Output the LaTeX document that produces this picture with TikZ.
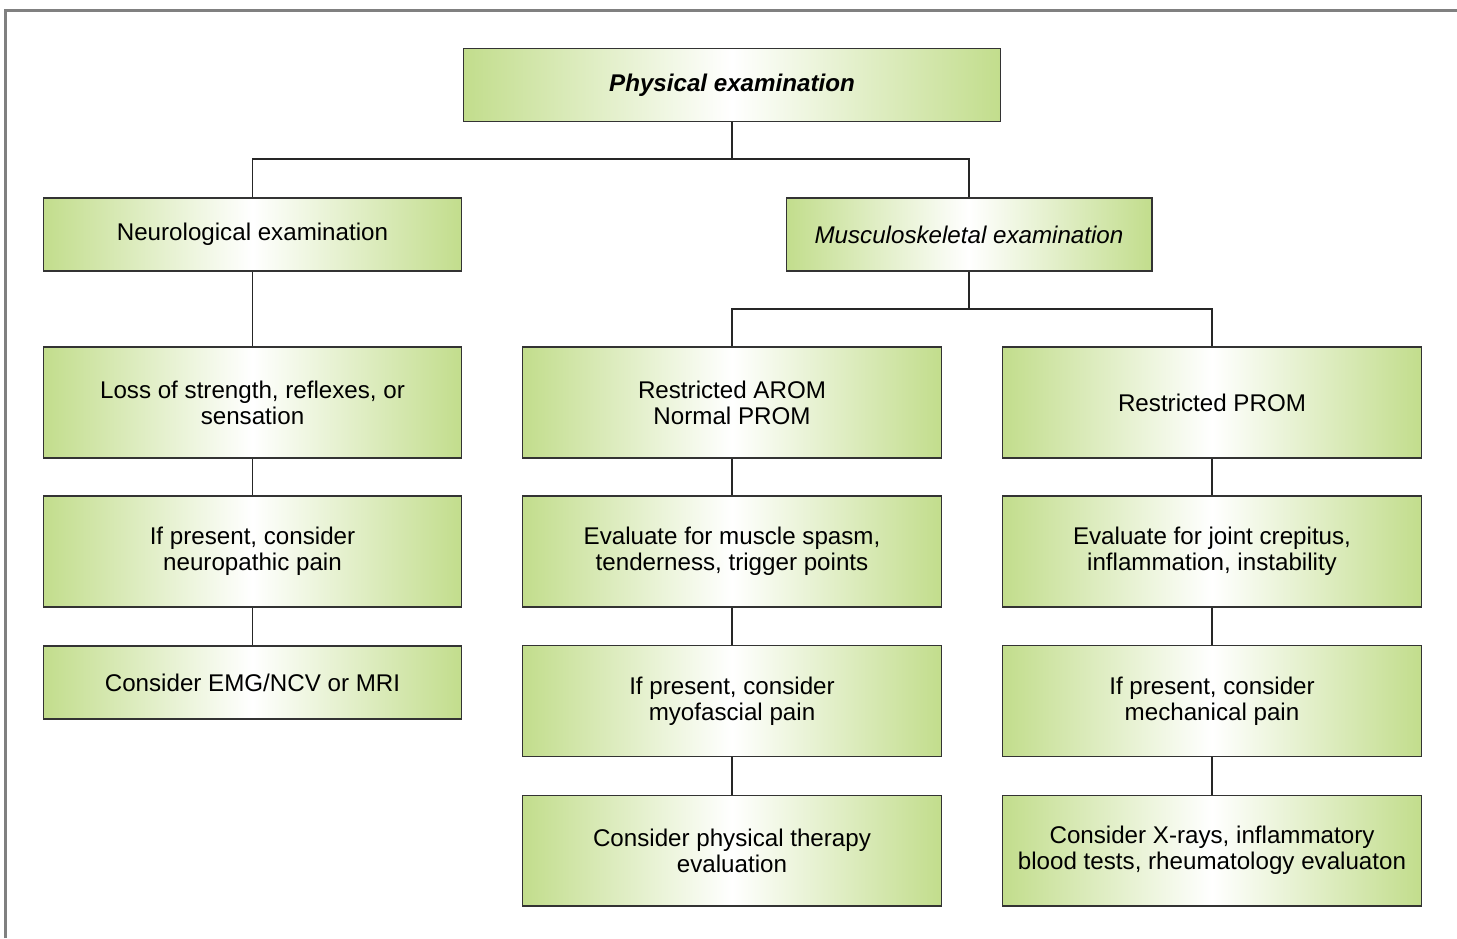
\documentclass[tikz,border=0pt]{standalone}
\usepackage{fontspec}
\setmainfont{Liberation Sans}
\usepackage{tikz}
\definecolor{boxgreen}{RGB}{194,221,140}

\begin{document}
\begin{tikzpicture}[x=0.02cm, y=-0.02cm,
  box/.style={draw=black!80, line width=0.6pt, left color=boxgreen, right color=boxgreen,
    middle color=white, align=center, inner sep=0pt, minimum width=8.38cm,
    font=\fontsize{13.75}{14.9}\selectfont},
  low/.style={minimum height=1.46cm},
  high/.style={minimum height=2.22cm},
  link/.style={draw=black!85, line width=0.6pt}]
  \useasboundingbox (0,0) rectangle (1457,938);
  % frame
  \draw[black!50, line width=1.2pt] (5.5,938) -- (5.5,10.5) -- (1457,10.5);
  % top level
  \node[box, low, minimum width=10.76cm, font=\fontsize{13.75}{14.9}\selectfont\bfseries\itshape]
    (phys) at (732,85) {Physical examination};
  \node[box, low] (neuro) at (252.5,234.5) {Neurological examination};
  \node[box, low, minimum width=7.32cm, font=\fontsize{13.75}{14.9}\selectfont\itshape]
    (musc) at (969,234.5) {Musculoskeletal examination};
  % neurological branch
  \node[box, high] (loss) at (252.5,402.5) {Loss of strength, reflexes, or\\sensation};
  \node[box, high] (neuropath) at (252.5,551.5) {If present, consider\\neuropathic pain};
  \node[box, low] (emg) at (252.5,682.5) {Consider EMG/NCV or MRI};
  % active range of motion branch
  \node[box, high] (arom) at (732,402.5) {Restricted AROM\\Normal PROM};
  \node[box, high] (spasm) at (732,551.5) {Evaluate for muscle spasm,\\tenderness, trigger points};
  \node[box, high] (myo) at (732,701) {If present, consider\\myofascial pain};
  \node[box, high] (therapy) at (732,850.5) {Consider physical therapy\\evaluation};
  % passive range of motion branch
  \node[box, high] (prom) at (1212,402.5) {Restricted PROM};
  \node[box, high] (joint) at (1212,551.5) {Evaluate for joint crepitus,\\inflammation, instability};
  \node[box, high] (mech) at (1212,701) {If present, consider\\mechanical pain};
  \node[box, high] (xray) at (1212,850.5) {Consider X-rays, inflammatory\\blood tests, rheumatology evaluaton};
  % connectors
  \coordinate (j1) at (732,159);
  \coordinate (j2) at (969,309);
  \draw[link] (phys.south) -- (j1);
  \draw[link] (neuro.north) |- (j1) -| (musc.north);
  \draw[link] (musc.south) -- (j2);
  \draw[link] (arom.north) |- (j2) -| (prom.north);
  \draw[link] (neuro) -- (loss);
  \draw[link] (loss) -- (neuropath);
  \draw[link] (neuropath) -- (emg);
  \draw[link] (arom) -- (spasm);
  \draw[link] (spasm) -- (myo);
  \draw[link] (myo) -- (therapy);
  \draw[link] (prom) -- (joint);
  \draw[link] (joint) -- (mech);
  \draw[link] (mech) -- (xray);
\end{tikzpicture}
\end{document}
